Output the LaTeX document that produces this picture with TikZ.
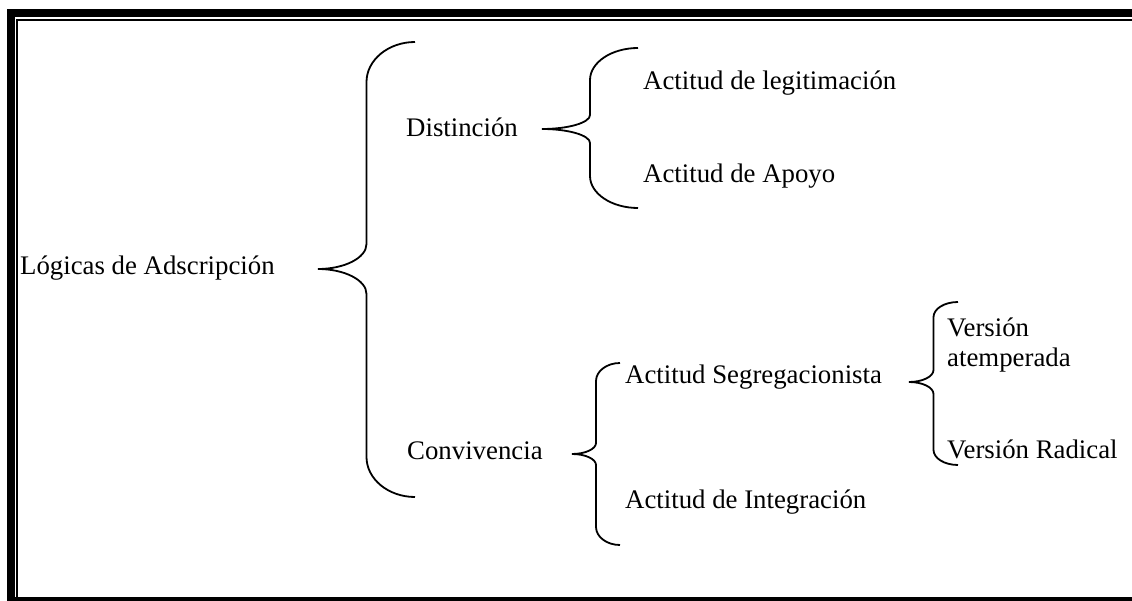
\documentclass[tikz,border=0pt]{standalone}
\usepackage{fontspec}
\setmainfont{Liberation Serif}
\newcommand{\curlybrace}[6]{%
\draw[bracestroke] ([shift={(2*#2,-#3)}]#1)
  .. controls ([shift={(1.45*#2,-#3)}]#1) and ([shift={(#2,-#3+0.45*#5)}]#1) .. ([shift={(#2,-#3+#5)}]#1)
  -- ([shift={(#2,-#6)}]#1)
  .. controls ([shift={(#2,-0.45*#6)}]#1) and ([shift={(0.55*#2,0)}]#1) .. (#1)
  .. controls ([shift={(0.55*#2,0)}]#1) and ([shift={(#2,0.45*#6)}]#1) .. ([shift={(#2,#6)}]#1)
  -- ([shift={(#2,#4-#5)}]#1)
  .. controls ([shift={(#2,#4-0.45*#5)}]#1) and ([shift={(1.45*#2,#4)}]#1) .. ([shift={(2*#2,#4)}]#1);}
\begin{document}
\begin{tikzpicture}[x=1pt,y=-1pt,
  txt/.style={anchor=base west,inner sep=0pt,font=\fontsize{26.8}{30}\selectfont},
  bracestroke/.style={line width=1.8pt}]
\useasboundingbox (0,0) rectangle (1132,601);
\fill (6.7,9) rectangle (15,601);
\fill (6.7,9) rectangle (1132,16.7);
\fill (15.7,18.7) rectangle (17.7,601);
\fill (15.7,18.7) rectangle (1132,20.7);
\fill (6.7,596.7) rectangle (1132,601);
\node[txt] (logicas) at (20,275) {Lógicas de Adscripción};
\node[txt] (distincion) at (406,137) {Distinción};
\node[txt] (legitim) at (643,90) {Actitud de legitimación};
\node[txt] (apoyo) at (643,183) {Actitud de Apoyo};
\node[txt] (conviv) at (407,459) {Convivencia};
\node[txt] (segreg) at (625,383) {Actitud Segregacionista};
\node[txt] (integr) at (625,508) {Actitud de Integración};
\node[txt] (atemp) at (947,337) {\begin{tabular}[t]{@{}l@{}}Versión\\atemperada\end{tabular}};
\node[txt] (radical) at (947,458) {Versión Radical};
\coordinate (tipLogicas) at (318,269);
\coordinate (tipDistincion) at (542,129);
\coordinate (tipConviv) at (572,454);
\coordinate (tipSegreg) at (909,382);
\curlybrace{tipLogicas}{48.5}{227}{228}{40}{25}
\curlybrace{tipDistincion}{48}{81}{79}{32}{14}
\curlybrace{tipConviv}{24}{91}{91}{18}{11}
\curlybrace{tipSegreg}{24.5}{80}{83}{15}{12}
\end{tikzpicture}
\end{document}
